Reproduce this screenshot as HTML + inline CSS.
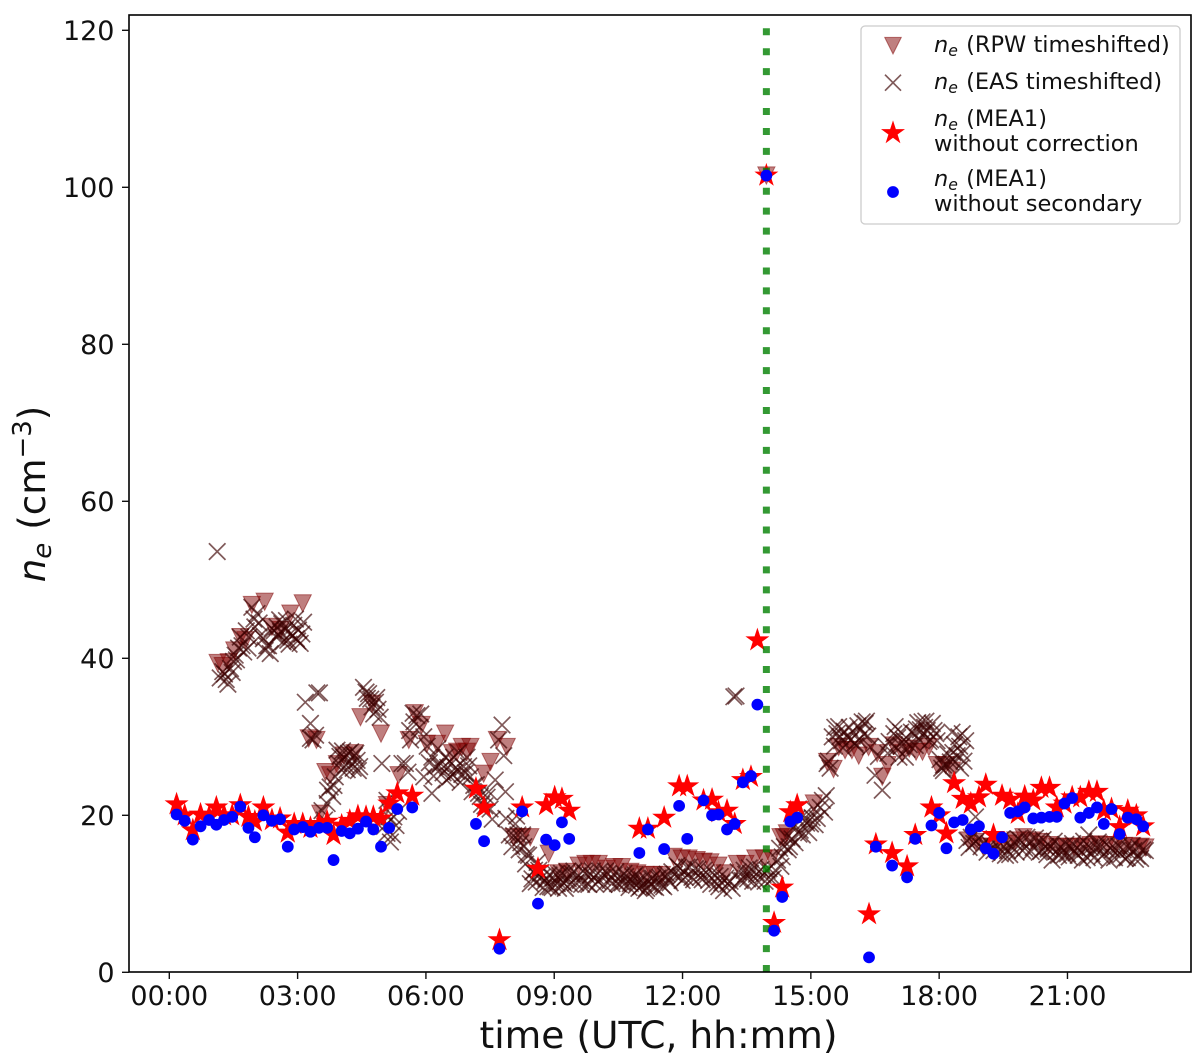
<!DOCTYPE html>
<html lang="en">
<head>
<meta charset="utf-8">
<title>Electron density over time</title>
<style>
html,body{margin:0;padding:0;background:#fff;}
svg{display:block;font-family:"DejaVu Sans","Liberation Sans",sans-serif;fill:#111;}
</style>
</head>
<body>
<svg id="chart" xmlns="http://www.w3.org/2000/svg" width="1200" height="1060" viewBox="0 0 1200 1060">
  <defs><clipPath id="plot-clip"><rect x="129" y="15" width="1062" height="957"/></clipPath></defs>
  <rect x="129" y="15" width="1062" height="957" fill="#fff"/>
  <g id="rpw-layer" clip-path="url(#plot-clip)"></g>
  <g id="eas-layer" clip-path="url(#plot-clip)"></g>
  <g id="star-layer" clip-path="url(#plot-clip)"></g>
  <line id="event-line" y1="972" y2="15" stroke="green" stroke-opacity="0.8" stroke-width="7" stroke-dasharray="7 12.93"/>
  <g id="dot-layer" clip-path="url(#plot-clip)"></g>
  <rect x="129" y="15" width="1062" height="957" fill="none" stroke="#000" stroke-width="1.6"/>
  <g id="x-axis"></g>
  <g id="y-axis"></g>
  <text x="658.5" y="1048" font-size="37.6" text-anchor="middle">time (UTC, hh:mm)</text>
  <text transform="translate(45,494) rotate(-90)" font-size="37.2" text-anchor="middle"><tspan font-style="italic">n</tspan><tspan font-style="italic" font-size="26" dy="6">e</tspan><tspan dy="-6" dx="13">(cm</tspan><tspan font-size="26" dy="-14">−3</tspan><tspan dy="14">)</tspan></text>
  <g>
    <rect x="861" y="26" width="319" height="198" rx="4" fill="#fff" fill-opacity="0.8" stroke="#ccc" stroke-width="1.3"/>
    <g id="legend-markers"></g>
    <g font-size="22.5">
      <text x="934" y="52"><tspan font-style="italic">n</tspan><tspan font-style="italic" font-size="15.7" dy="4">e</tspan><tspan dy="-4" dx="1"> (RPW timeshifted)</tspan></text>
      <text x="934" y="89"><tspan font-style="italic">n</tspan><tspan font-style="italic" font-size="15.7" dy="4">e</tspan><tspan dy="-4" dx="1"> (EAS timeshifted)</tspan></text>
      <text x="934" y="126"><tspan font-style="italic">n</tspan><tspan font-style="italic" font-size="15.7" dy="4">e</tspan><tspan dy="-4" dx="1"> (MEA1)</tspan></text>
      <text x="934" y="151">without correction</text>
      <text x="934" y="186"><tspan font-style="italic">n</tspan><tspan font-style="italic" font-size="15.7" dy="4">e</tspan><tspan dy="-4" dx="1"> (MEA1)</tspan></text>
      <text x="934" y="211">without secondary</text>
    </g>
  </g>
</svg>
<script>
const xTickHours = [0, 3, 6, 9, 12, 15, 18, 21];
const xTickLabels = ['00:00', '03:00', '06:00', '09:00', '12:00', '15:00', '18:00', '21:00'];
const yTickValues = [0, 20, 40, 60, 80, 100, 120];
const yTickLabels = ['0', '20', '40', '60', '80', '100', '120'];
const eventHour = 13.96;

const rpwHours = [
  1.13,1.25,1.39,1.52,1.66,1.78,1.93,2.23,2.4,2.6,
  2.83,3.12,3.26,3.44,3.53,3.65,3.76,3.92,4.08,4.33,
  4.47,4.74,4.95,5.09,5.36,5.6,5.74,5.9,6.02,6.26,
  6.45,6.61,6.73,6.84,6.96,7.04,7.35,7.51,7.66,7.89,
  8.05,8.25,8.44,8.87,9.1,9.3,9.57,9.73,9.88,10.04,
  10.23,10.4,10.58,10.78,10.94,11.13,11.33,11.52,11.79,11.98,
  12.14,12.33,12.49,12.65,12.84,12.99,13.27,13.47,13.7,13.9,
  13.96,14.09,14.29,14.37,14.44,15.07,15.38,15.53,15.65,15.8,
  15.96,16.12,16.35,16.55,16.67,16.79,16.94,17.14,17.3,17.46,
  17.61,17.76,17.95,18.15,18.3,18.69,18.85,19.03,19.23,19.43,
  19.62,19.78,19.97,20.17,20.37,20.56,20.76,20.95,21.15,21.34,
  21.54,21.73,21.93,22.12,22.32,22.51,22.71,22.82
];
const rpwDensity = [
  39.4,39,39.5,41,42.7,42.3,46.8,47.2,44,43.6,
  45.7,47,29.8,29.6,20.2,25.5,25.1,26.5,27.6,27.9,
  32.5,34.2,30.4,21.3,25.1,29.6,33,31.5,29.1,29.1,
  30.4,27.9,28.1,28.7,28.1,28.7,25.3,26.8,29.6,28.7,
  17.2,17.2,17.2,15.1,12.6,12.8,13.6,13.8,13.8,13.8,
  13.2,13.4,13.4,12.8,12.6,12.4,12.4,12.4,14.7,14.5,
  14.5,14.3,14.1,14,13.6,12.6,13.8,13.8,14.5,14.5,
  101.5,14.5,17.2,17.2,17.7,21.5,26.8,25.9,28.7,28.3,
  28.3,27.6,28.7,27.9,24.9,26.4,28.9,27.9,28.5,28.1,
  28.1,28.7,26.4,26.4,25.7,16.8,16.6,16,16,16,
  16.4,16.8,17.2,16.8,16.6,16.2,16,16,16,16,
  16.2,16.3,16.2,16.2,16.1,16.1,16,15.9
];

const easHours = [
  1.12,1.19,1.25,1.29,1.37,1.43,1.5,1.57,1.66,1.74,
  1.8,1.86,1.93,2.0,2.05,2.13,2.2,2.28,2.32,2.36,
  2.45,2.52,2.58,2.63,2.71,2.77,2.83,2.91,2.97,3.02,
  3.06,3.14,3.18,3.3,3.3,3.36,3.42,3.45,3.51,3.57,
  3.63,3.69,3.76,3.82,3.88,3.92,3.96,4.02,4.08,4.13,
  4.19,4.27,4.33,4.39,4.45,4.54,4.6,4.66,4.74,4.82,
  4.88,4.93,4.97,5.03,5.09,5.09,5.17,5.25,5.3,5.36,
  5.44,5.52,5.58,5.64,5.72,5.79,5.85,5.95,5.95,6.03,
  6.14,6.14,6.22,6.28,6.34,6.4,6.45,6.51,6.57,6.65,
  6.72,6.8,6.88,6.96,7.04,7.12,7.23,7.3,7.43,7.5,
  7.55,7.62,7.7,7.78,7.82,7.86,7.87,7.95,8.01,8.09,
  8.15,8.22,8.29,8.35,8.4,8.44,8.5,8.58,8.64,8.71,
  8.78,8.85,8.91,8.98,9.07,9.14,9.2,9.26,9.33,9.42,
  9.5,9.61,9.68,9.77,9.85,9.93,10.02,10.12,10.2,10.31,
  10.4,10.48,10.55,10.63,10.71,10.78,10.85,10.92,10.98,11.05,
  11.13,11.2,11.27,11.33,11.42,11.52,11.6,11.68,11.75,11.87,
  11.95,12.03,12.1,12.22,12.3,12.42,12.5,12.61,12.7,12.81,
  12.88,12.96,13.06,13.16,13.2,13.25,13.35,13.44,13.52,13.59,
  13.68,13.78,13.88,13.98,14.07,14.17,14.27,14.33,14.44,14.5,
  14.6,14.68,14.75,14.83,14.9,14.99,15.07,15.15,15.27,15.36,
  15.38,15.45,15.5,15.56,15.61,15.65,15.72,15.78,15.85,15.93,
  16.0,16.06,16.12,16.2,16.27,16.33,16.39,16.5,16.58,16.67,
  16.75,16.83,16.94,17.0,17.06,17.12,17.17,17.21,17.3,17.41,
  17.47,17.53,17.6,17.66,17.72,17.8,17.88,17.95,18.02,18.1,
  18.1,18.17,18.26,18.3,18.36,18.42,18.48,18.54,18.54,18.62,
  18.65,18.7,18.75,18.81,18.85,18.92,18.98,19.05,19.12,19.2,
  19.28,19.36,19.43,19.51,19.6,19.7,19.8,19.9,20,20.1,
  20.2,20.29,20.38,20.48,20.55,20.64,20.74,20.84,20.92,21,
  21.08,21.15,21.25,21.35,21.42,21.5,21.57,21.67,21.77,21.86,
  21.97,22.05,22.16,22.25,22.35,22.45,22.55,22.63,22.71,22.82,
  8.74,8.81,8.88,8.95,9.03,9.1,9.17,9.23,9.3,9.38,
  9.46,9.55,9.64,9.72,9.81,9.89,9.97,10.07,10.16,10.25,
  10.35,10.44,10.52,10.59,10.67,10.75,10.82,10.89,10.95,11.02,
  11.09,11.16,11.23,11.3,11.37,11.47,11.56,11.64,11.71,11.81,
  11.91,11.99,12.06,12.16,12.26,12.36,12.46,12.55,12.66,12.76,
  12.85,12.92,13.01,13.11,13.3,13.4,13.48,13.56,13.64,13.73,
  13.83,13.93,14.02,14.12,14.22,
  19.47,19.55,19.65,19.75,19.85,19.95,20.05,20.15,20.25,20.34,
  20.43,20.52,20.6,20.69,20.79,20.88,20.96,21.04,21.12,21.2,
  21.3,21.38,21.46,21.53,21.62,21.72,21.81,21.91,22.01,22.1,
  22.2,22.3,22.4,22.5,22.59,22.67,22.76,
  15.55,15.68,15.75,15.9,16.03,16.1,16.16,16.24,16.3,16.8,
  16.97,17.03,17.1,17.25,17.35,17.44,17.5,17.56,17.63,17.69,
  17.76,17.84,17.92,18.06,18.2,18.32,18.38,18.46,18.58,18.5,
  1.33,1.47,1.54,1.62,1.7,1.84,1.98,2.1,2.24,2.4,
  2.5,2.55,2.66,2.74,2.8,2.88,2.95,3.0,3.1,2.6,
  3.7,3.85,3.99,4.05,4.16,4.24,4.3,4.36,4.42,4.63,
  4.71,4.78,4.85,5.22,5.13,5.62,5.7,5.88,6.08,6.18,
  6.3,6.48,6.55,6.62,6.7,6.76,6.84,6.92,7.0,7.08,
  7.18,7.27,7.38,7.47,8.05,8.12,8.18,8.26,8.33,8.48,
  8.54,8.6,8.68,
  14.3,14.38,14.47,14.56,14.63,14.72,14.8,14.87,14.95,15.03,
  15.1,15.22,15.32,15.41
];
const easDensity = [
  53.6,37.5,38.3,38,36.7,38.7,39.6,39.8,42.7,40.8,
  43.5,42.7,46.5,44,45.7,42.9,42.5,41.6,41.6,40.6,
  43.5,44,44.9,44.4,43.6,42.3,43.1,44.2,42.5,43.6,
  41.9,44.6,34.4,31.7,29.8,29.6,30.2,35.6,35.6,20.6,
  19.4,21.5,23.6,22.4,24.9,28.3,26.6,25.8,27.4,26.4,
  27.9,26.6,27.6,27,26.2,36.3,35.7,35.5,33.8,34.4,
  33.5,32.5,26.6,18.6,21.9,17.7,16.6,19.8,18.7,20.5,
  26.6,26.6,25.5,29.6,31.9,32.7,31.2,30,24.9,28.8,
  27.4,22.8,26.2,28.5,26.6,25.4,27.4,26.1,24.9,27.4,
  25.6,24.2,26.2,27.4,24.9,23.8,22.8,21.4,22.3,20.8,
  19.5,24.5,29.6,31.5,27.6,23,19.6,17.5,16,18.9,
  17.5,16.5,16,15,14.9,11.3,12.8,11.5,13,12.1,
  11.6,10.9,10.9,12,11.3,12.3,11.5,10.7,11.9,12.6,
  11.4,11.7,12.9,11.3,12.4,12.1,11.6,12.1,12.9,11.7,
  12.4,11.3,12.1,12.6,11.6,11.3,12.2,11.1,10.7,11.8,
  10.4,11.6,11.9,10.9,12,11.1,12.3,11.7,12.8,13.6,
  12.2,12.8,13.4,12.1,13.2,12.1,13,11.7,12.7,11.3,
  12.2,10.4,11.3,10.7,35.1,35.2,11.7,13,11.9,12.6,
  13.4,11.5,12.4,13,11.8,13,15.8,14.7,17.2,16,
  18.5,19.6,18.1,20,19,18.9,20.8,19.6,21.9,22.5,
  26.6,26,30,31.2,30.4,31.3,29.5,30.7,30,29.6,
  30.5,28.9,29.6,31.9,31.7,30.1,28.7,25.1,27.5,23.2,
  28.8,29.4,30.4,28.6,27.4,28.8,29.6,27.4,29,30.4,
  31,29.6,31.9,31.2,30.8,29.6,30.8,29.5,27.1,26.4,
  25.7,26.5,26.8,30.6,29,27.6,28.8,30.4,27.9,29.5,
  16.8,15.9,17.2,16.4,19.8,17,16,16.5,15.3,16.2,
  15.5,16.1,15.1,16,15.5,16,15.3,16.8,15.8,16.6,
  15.9,16.6,15.4,16,15.7,14.3,15.4,16,14.9,15.1,
  15.9,15.5,14.9,14.3,15.7,17.5,15.1,15.9,16,15.1,
  14.3,15.6,15.5,15,14.5,15.7,15.5,14.8,14.5,15.5,
  10.8,11.9,12.4,10.8,12.5,10.7,12.6,11.3,12.8,11.2,
  12.9,12.3,11.2,12.6,11.2,12.9,11.2,12.9,11.2,12.5,
  11.3,12.8,11.2,11.4,12.2,10.8,11.7,12.4,11.6,10.9,
  11.3,10.7,11.2,12,10.8,12.1,10.9,12.5,11.4,12.5,
  13.4,11.7,12.1,13.4,11.8,13.1,11.8,12.7,11.2,12.3,
  10.9,11.4,12,11.6,12.8,11.7,12.5,13.3,11.6,12.5,
  13.1,11.6,13.2,12,14.3,
  17,14.9,15,16.6,17,15.5,17.2,15.4,17.1,15.3,
  16.9,15,16,16.7,14.9,15.3,16.3,14.7,16.4,15.2,
  15.5,16.7,14.6,15.9,14.6,16.6,14.8,16.3,15.8,14.6,
  16.1,15.6,14.6,16.1,14.4,15.9,15.6,
  28.8,30,28.6,31.2,29.2,31.4,30.9,30.3,32,27.9,
  31.3,29.9,30.6,28.4,30.6,28.9,31.8,30.9,30.4,32,
  29.4,31.7,30.4,26,27.8,28,26.8,30,26.9,26,
  37.3,38.2,40.4,41.3,41.6,41.3,45,44.5,41,43.8,
  42.7,43,42.1,44.8,41.8,42.9,45,42.2,43.1,43.4,
  23.2,23.8,27.5,28.2,25.8,28.1,26,27.9,25.7,34.9,
  34.8,32.9,35,17.5,19.8,30.8,33,32.9,26.7,25,
  26.3,24.5,26.9,25.2,26.1,28,25.2,25.4,26.3,23,
  23.9,22.4,21.2,23,17.4,19.9,15.6,17.5,13.8,11.9,
  13,14,12.7,
  13.5,16,15.6,17,16.5,17.6,17.5,19.3,17.8,19.7,
  18.8,21,20.4,26.9
];

const meaHours = [
  0.17,0.36,0.55,0.73,0.93,1.10,1.28,1.47,1.66,1.85,
  2.0,2.2,2.4,2.59,2.77,2.92,3.12,3.3,3.5,3.69,
  3.84,4.03,4.22,4.41,4.6,4.77,4.95,5.14,5.33,5.68,
  7.17,7.36,7.72,8.25,8.62,8.81,9.01,9.18,9.35,10.99,
  11.19,11.57,11.92,12.11,12.49,12.69,12.84,13.04,13.22,13.41,
  13.6,13.75,13.96,14.14,14.33,14.52,14.68,16.36,16.52,16.9,
  17.25,17.44,17.82,18.0,18.17,18.35,18.55,18.74,18.93,19.09,
  19.27,19.47,19.66,19.84,20.0,20.2,20.39,20.58,20.75,20.93,
  21.11,21.3,21.5,21.69,21.85,22.03,22.22,22.41,22.61,22.77
];
const meaWithoutCorrection = [
  21.4,20,18.1,20.1,19.8,21,20,20,21.3,19.8,
  19.2,21,19.4,19.6,17.8,18.9,18.9,18.4,18.9,19.2,
  17.5,18.7,19.3,19.9,19.8,19.8,19.6,21.5,22.8,22.5,
  23.4,21,4.1,21,13.2,21.3,22.3,22.1,20.6,18.3,
  18.3,19.7,23.7,23.7,21.9,22,20.4,20.6,18.9,24.5,
  24.9,42.3,101.5,6.3,10.8,20.4,21.3,7.4,16.3,15.2,
  13.5,17.5,21,20,17.7,24.1,22.1,21.5,22.3,23.9,
  17.5,22.5,22,20.2,22.4,21.9,23.5,23.5,21,21.5,
  22.3,22.3,23,23,20.6,20.8,18.5,20.6,20,18.6
];
const meaWithoutSecondary = [
  20.1,19.3,16.9,18.6,19.4,18.8,19.4,19.8,21.1,18.4,
  17.2,20,19.3,19.5,16,18.2,18.5,17.9,18.4,18.4,
  14.3,18,17.7,18.3,19.2,18.2,16,18.4,20.8,21,
  18.9,16.7,3,20.5,8.75,16.9,16.2,19.1,17,15.2,
  18.2,15.7,21.2,17,21.9,20,20.1,18.2,18.9,24.2,
  25,34.1,101.5,5.3,9.6,19.2,19.7,1.9,16,13.6,
  12.1,17,18.7,20.3,15.8,19.1,19.4,18.2,18.6,15.8,
  15.1,17.2,20.3,20.5,21,19.6,19.7,19.8,19.8,21.5,
  22.2,19.7,20.3,21,18.9,20.8,17.6,19.7,19.5,18.6
];

const NS = 'http://www.w3.org/2000/svg';
function xScale(hour) { return 169.3 + hour * 42.77; }
function yScale(value) { return 972.3 - value * 7.85; }
function make(tag, attrs) {
  const el = document.createElementNS(NS, tag);
  for (const k in attrs) el.setAttribute(k, attrs[k]);
  return el;
}
function trianglePoints(x, y, r) {
  return (x - r) + ',' + (y - r) + ' ' + (x + r) + ',' + (y - r) + ' ' + x + ',' + (y + r);
}
function crossPath(x, y, r) {
  return 'M' + (x - r) + ' ' + (y - r) + 'L' + (x + r) + ' ' + (y + r) + 'M' + (x - r) + ' ' + (y + r) + 'L' + (x + r) + ' ' + (y - r);
}
function starPoints(x, y, R) {
  const pts = [];
  for (let i = 0; i < 10; i++) {
    const rad = i % 2 === 0 ? R : R * 0.381966;
    const a = -Math.PI / 2 + i * Math.PI / 5;
    pts.push((x + rad * Math.cos(a)).toFixed(2) + ',' + (y + rad * Math.sin(a)).toFixed(2));
  }
  return pts.join(' ');
}
function triangleMark(x, y) {
  return make('polygon', {points: trianglePoints(x, y, 8.6), fill: '#800000', 'fill-opacity': 0.5, stroke: '#800000', 'stroke-opacity': 0.5, 'stroke-width': 1});
}
function crossMark(x, y) {
  return make('path', {d: crossPath(x, y, 8.3), fill: 'none', stroke: '#3a0000', 'stroke-opacity': 0.65, 'stroke-width': 1.7});
}
function starMark(x, y) {
  return make('polygon', {points: starPoints(x, y, 10.5), fill: '#ff0000', stroke: '#ff0000', 'stroke-width': 1.3});
}
function dotMark(x, y) {
  return make('circle', {cx: x, cy: y, r: 5.9, fill: '#0000ff'});
}

const rpwLayer = document.getElementById('rpw-layer');
rpwHours.forEach(function (h, i) {
  const el = triangleMark(xScale(h), yScale(rpwDensity[i]));
  
  
  rpwLayer.appendChild(el);
});

const easLayer = document.getElementById('eas-layer');
easHours.forEach(function (h, i) {
  const el = crossMark(xScale(h), yScale(easDensity[i]));
  
  
  easLayer.appendChild(el);
});

const starLayer = document.getElementById('star-layer');
meaHours.forEach(function (h, i) {
  const el = starMark(xScale(h), yScale(meaWithoutCorrection[i]));
  
  
  starLayer.appendChild(el);
});

const dotLayer = document.getElementById('dot-layer');
meaHours.forEach(function (h, i) {
  const el = dotMark(xScale(h), yScale(meaWithoutSecondary[i]));
  
  
  dotLayer.appendChild(el);
});

const eventLine = document.getElementById('event-line');
eventLine.setAttribute('x1', xScale(eventHour));
eventLine.setAttribute('x2', xScale(eventHour));

const xAxis = document.getElementById('x-axis');
xTickHours.forEach(function (h, i) {
  const x = xScale(h);
  const tick = make('line', {x1: x, x2: x, y1: 972.3, y2: 979, stroke: '#111', 'stroke-width': 1.4});
  
  
  xAxis.appendChild(tick);
  const label = make('text', {x: x, y: 1005, 'font-size': 27, 'text-anchor': 'middle'});
  label.textContent = xTickLabels[i];
  
  
  xAxis.appendChild(label);
});

const yAxis = document.getElementById('y-axis');
yTickValues.forEach(function (v, i) {
  const y = yScale(v);
  const tick = make('line', {x1: 122, x2: 129, y1: y, y2: y, stroke: '#111', 'stroke-width': 1.4});
  
  
  yAxis.appendChild(tick);
  const label = make('text', {x: 114.5, y: y + 9.8, 'font-size': 27, 'text-anchor': 'end'});
  label.textContent = yTickLabels[i];
  
  
  yAxis.appendChild(label);
});

const legendMarkers = document.getElementById('legend-markers');
const legendTriangle = make('polygon', {points: trianglePoints(893, 45.7, 8.3), fill: '#800000', 'fill-opacity': 0.5, stroke: '#800000', 'stroke-opacity': 0.5, 'stroke-width': 1});


legendMarkers.appendChild(legendTriangle);
const legendCross = make('path', {d: crossPath(893, 82.7, 8), fill: 'none', stroke: '#3a0000', 'stroke-opacity': 0.65, 'stroke-width': 1.7});


legendMarkers.appendChild(legendCross);
const legendStar = make('polygon', {points: starPoints(893, 133, 10.5), fill: '#ff0000', stroke: '#ff0000', 'stroke-width': 1.3});


legendMarkers.appendChild(legendStar);
const legendDot = make('circle', {cx: 893, cy: 192, r: 5.9, fill: '#0000ff'});


legendMarkers.appendChild(legendDot);
</script>
</body>
</html>
